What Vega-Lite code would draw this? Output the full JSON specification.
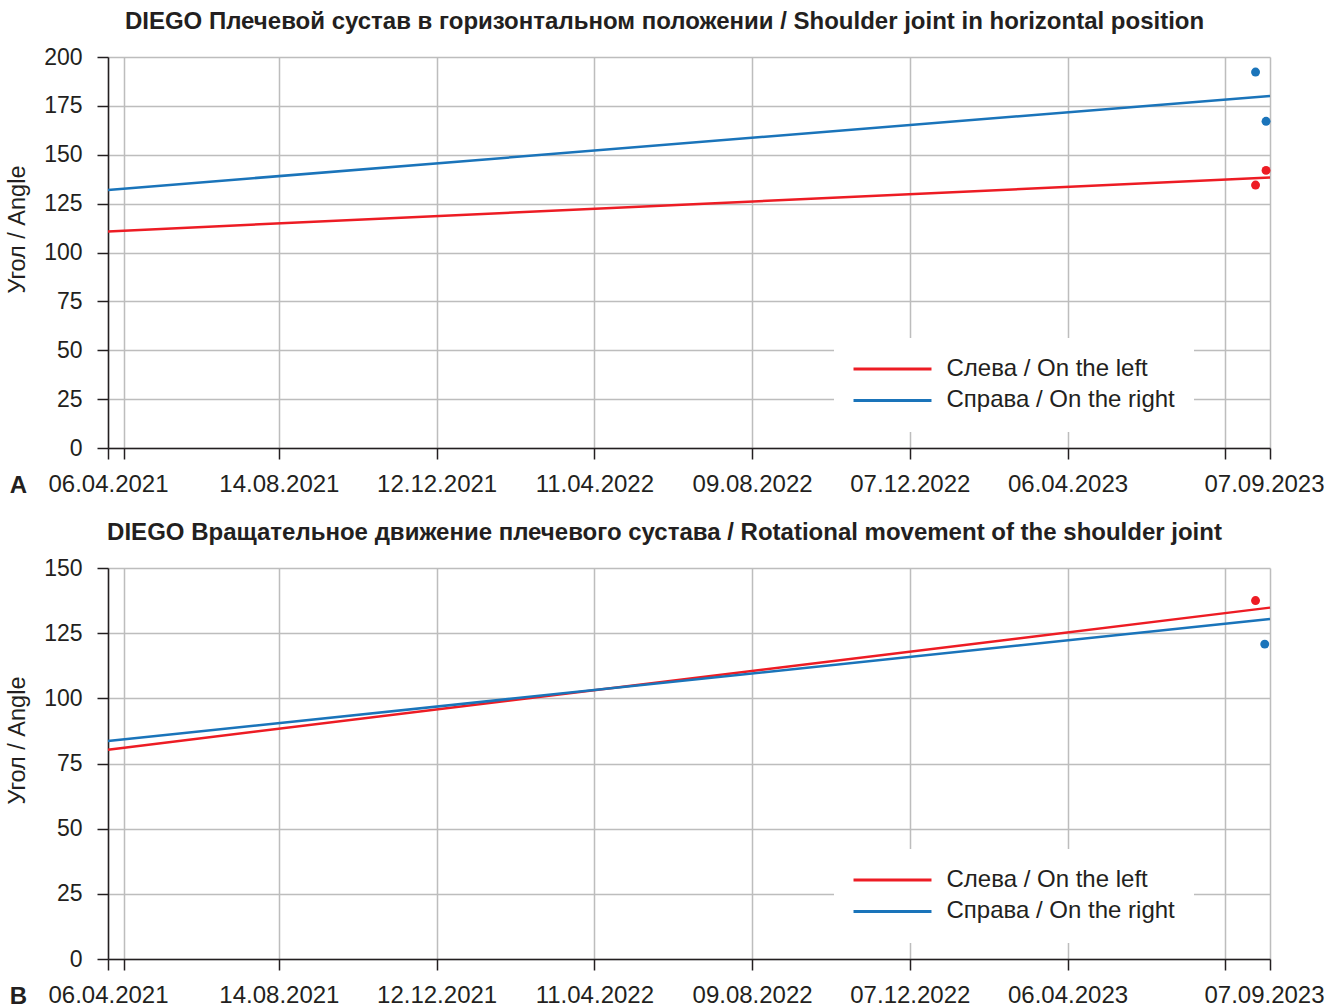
{
  "$schema": "https://vega.github.io/schema/vega-lite/v6.json",
  "background": "white",
  "padding": {"left": 5, "top": 10, "right": 5, "bottom": 5},
  "config": {
    "font": "Liberation Sans",
    "view": {"stroke": null},
    "axis": {
      "domainColor": "#231f20",
      "domainWidth": 1.5,
      "tickColor": "#231f20",
      "tickWidth": 1.5,
      "tickSize": 11,
      "gridColor": "#bdbdbd",
      "gridWidth": 1.5,
      "labelColor": "#231f20",
      "titleColor": "#231f20",
      "labelFont": "Liberation Sans",
      "titleFont": "Liberation Sans"
    },
    "title": {"font": "Liberation Sans", "fontSize": 24, "fontWeight": "bold", "color": "#231f20", "anchor": "middle", "frame": "bounds", "offset": 12}
  },
  "datasets": {
    "horizontal": [
      {"side": "Слева / On the left", "kind": "trend", "date": "2021-04-06", "angle": 110.8},
      {"side": "Слева / On the left", "kind": "trend", "date": "2023-09-07", "angle": 138.4},
      {"side": "Справа / On the right", "kind": "trend", "date": "2021-04-06", "angle": 132.0},
      {"side": "Справа / On the right", "kind": "trend", "date": "2023-09-07", "angle": 180.1},
      {"side": "Слева / On the left", "kind": "measure", "date": "2023-08-27", "angle": 134.5},
      {"side": "Слева / On the left", "kind": "measure", "date": "2023-09-04", "angle": 142.0},
      {"side": "Справа / On the right", "kind": "measure", "date": "2023-08-27", "angle": 192.3},
      {"side": "Справа / On the right", "kind": "measure", "date": "2023-09-04", "angle": 167.1}
    ],
    "rotation": [
      {"side": "Слева / On the left", "kind": "trend", "date": "2021-04-06", "angle": 80.3},
      {"side": "Слева / On the left", "kind": "trend", "date": "2023-09-07", "angle": 134.8},
      {"side": "Справа / On the right", "kind": "trend", "date": "2021-04-06", "angle": 83.6},
      {"side": "Справа / On the right", "kind": "trend", "date": "2023-09-07", "angle": 130.4},
      {"side": "Слева / On the left", "kind": "measure", "date": "2023-08-27", "angle": 137.5},
      {"side": "Справа / On the right", "kind": "measure", "date": "2023-09-03", "angle": 120.8}
    ]
  },
  "spacing": 24,
  "resolve": {"scale": {"color": "independent"}, "legend": {"color": "independent"}},
  "vconcat": [
    {
      "title": {"text": "DIEGO Плечевой сустав в горизонтальном положении / Shoulder joint in horizontal position"},
      "width": 1162,
      "height": 391,
      "data": {"name": "horizontal"},
      "encoding": {
        "x": {
          "field": "date",
          "type": "temporal",
          "title": "A",
          "scale": {"type": "utc", "domain": [{"year": 2021, "month": 4, "date": 6, "utc": true}, {"year": 2023, "month": 9, "date": 7, "utc": true}]},
          "axis": {
            "values": [
              {"year": 2021, "month": 4, "date": 6, "utc": true},
              {"year": 2021, "month": 4, "date": 18, "utc": true},
              {"year": 2021, "month": 8, "date": 14, "utc": true},
              {"year": 2021, "month": 12, "date": 12, "utc": true},
              {"year": 2022, "month": 4, "date": 11, "utc": true},
              {"year": 2022, "month": 8, "date": 9, "utc": true},
              {"year": 2022, "month": 12, "date": 7, "utc": true},
              {"year": 2023, "month": 4, "date": 6, "utc": true},
              {"year": 2023, "month": 8, "date": 4, "utc": true},
              {"year": 2023, "month": 9, "date": 7, "utc": true}
            ],
            "format": "%d.%m.%Y",
            "labelExpr": "datum.label == '18.04.2021' || datum.label == '04.08.2023' ? '' : datum.label",
            "labelOverlap": false,
            "labelFlush": false,
            "labelBound": false,
            "labelFontSize": 24,
            "labelPadding": 13,
            "labelOffset": {"condition": {"test": "datum.value > utc(2023, 8, 1)", "value": -6}, "value": 0},
            "grid": true,
            "titleFontSize": 24,
            "titleFontWeight": "bold",
            "titleX": -90,
            "titleY": 44,
            "titleAlign": "center",
            "titleBaseline": "alphabetic"
          }
        },
        "y": {
          "field": "angle",
          "type": "quantitative",
          "title": "Угол / Angle",
          "scale": {"domain": [0, 200], "nice": false},
          "axis": {
            "values": [0, 25, 50, 75, 100, 125, 150, 175, 200],
            "grid": true,
            "labelFontSize": 23,
            "labelPadding": 15,
            "titleFontSize": 23.5,
            "titleFontWeight": "normal",
            "titleAngle": -90,
            "titleX": -91,
            "titleY": 172,
            "titleAlign": "center",
            "titleBaseline": "middle"
          }
        },
        "color": {
          "field": "side",
          "type": "nominal",
          "scale": {"domain": ["Слева / On the left", "Справа / On the right"], "range": ["#ed1c24", "#1a74ba"]},
          "legend": {
            "orient": "none",
            "legendX": 726,
            "legendY": 281,
            "fillColor": "white",
            "padding": 19,
            "title": null,
            "symbolType": "M-4,0H4",
            "symbolSize": 380,
            "symbolStrokeWidth": 3,
            "symbolOffset": 27.5,
            "labelOffset": 42,
            "rowPadding": 7.4,
            "labelFont": "Liberation Sans",
            "labelFontSize": 24,
            "labelColor": "#231f20",
            "labelLimit": 400
          }
        }
      },
      "layer": [
        {
          "transform": [{"filter": "datum.kind == 'trend'"}],
          "mark": {"type": "line", "strokeWidth": 2.5}
        },
        {
          "transform": [{"filter": "datum.kind == 'measure'"}],
          "mark": {"type": "circle", "size": 80, "opacity": 1}
        }
      ]
    },
    {
      "title": {"text": "DIEGO Вращательное движение плечевого сустава / Rotational movement of the shoulder joint"},
      "width": 1162,
      "height": 391,
      "data": {"name": "rotation"},
      "encoding": {
        "x": {
          "field": "date",
          "type": "temporal",
          "title": "B",
          "scale": {"type": "utc", "domain": [{"year": 2021, "month": 4, "date": 6, "utc": true}, {"year": 2023, "month": 9, "date": 7, "utc": true}]},
          "axis": {
            "values": [
              {"year": 2021, "month": 4, "date": 6, "utc": true},
              {"year": 2021, "month": 4, "date": 18, "utc": true},
              {"year": 2021, "month": 8, "date": 14, "utc": true},
              {"year": 2021, "month": 12, "date": 12, "utc": true},
              {"year": 2022, "month": 4, "date": 11, "utc": true},
              {"year": 2022, "month": 8, "date": 9, "utc": true},
              {"year": 2022, "month": 12, "date": 7, "utc": true},
              {"year": 2023, "month": 4, "date": 6, "utc": true},
              {"year": 2023, "month": 8, "date": 4, "utc": true},
              {"year": 2023, "month": 9, "date": 7, "utc": true}
            ],
            "format": "%d.%m.%Y",
            "labelExpr": "datum.label == '18.04.2021' || datum.label == '04.08.2023' ? '' : datum.label",
            "labelOverlap": false,
            "labelFlush": false,
            "labelBound": false,
            "labelFontSize": 24,
            "labelPadding": 13,
            "labelOffset": {"condition": {"test": "datum.value > utc(2023, 8, 1)", "value": -6}, "value": 0},
            "grid": true,
            "titleFontSize": 24,
            "titleFontWeight": "bold",
            "titleX": -90,
            "titleY": 44,
            "titleAlign": "center",
            "titleBaseline": "alphabetic"
          }
        },
        "y": {
          "field": "angle",
          "type": "quantitative",
          "title": "Угол / Angle",
          "scale": {"domain": [0, 150], "nice": false},
          "axis": {
            "values": [0, 25, 50, 75, 100, 125, 150],
            "grid": true,
            "labelFontSize": 23,
            "labelPadding": 15,
            "titleFontSize": 23.5,
            "titleFontWeight": "normal",
            "titleAngle": -90,
            "titleX": -91,
            "titleY": 172,
            "titleAlign": "center",
            "titleBaseline": "middle"
          }
        },
        "color": {
          "field": "side",
          "type": "nominal",
          "scale": {"domain": ["Слева / On the left", "Справа / On the right"], "range": ["#ed1c24", "#1a74ba"]},
          "legend": {
            "orient": "none",
            "legendX": 726,
            "legendY": 281,
            "fillColor": "white",
            "padding": 19,
            "title": null,
            "symbolType": "M-4,0H4",
            "symbolSize": 380,
            "symbolStrokeWidth": 3,
            "symbolOffset": 27.5,
            "labelOffset": 42,
            "rowPadding": 7.4,
            "labelFont": "Liberation Sans",
            "labelFontSize": 24,
            "labelColor": "#231f20",
            "labelLimit": 400
          }
        }
      },
      "layer": [
        {
          "transform": [{"filter": "datum.kind == 'trend'"}],
          "mark": {"type": "line", "strokeWidth": 2.5}
        },
        {
          "transform": [{"filter": "datum.kind == 'measure'"}],
          "mark": {"type": "circle", "size": 80, "opacity": 1}
        }
      ]
    }
  ]
}
